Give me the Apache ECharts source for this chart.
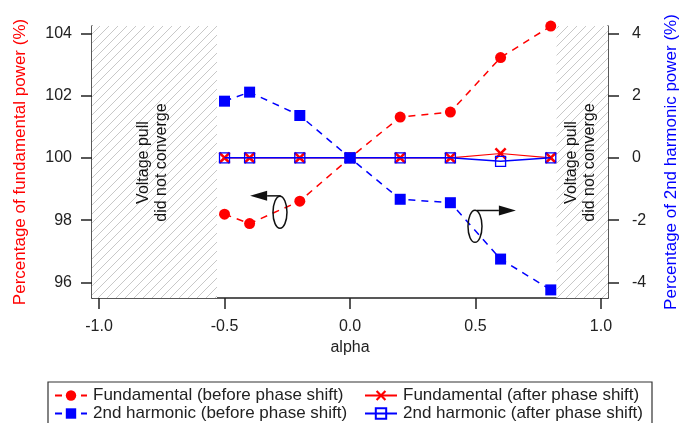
<!DOCTYPE html>
<html>
<head>
<meta charset="utf-8">
<script src="https://cdn.jsdelivr.net/npm/echarts@6/dist/echarts.min.js"></script>
<style>
  html, body { margin: 0; padding: 0; background: #fff; }
  #main { width: 679px; height: 423px; }
</style>
</head>
<body>
<div id="main"></div>
<script>
// x values (alpha)
var alpha = [-0.5, -0.4, -0.2, 0.0, 0.2, 0.4, 0.6, 0.8];
// fundamental power, % (left axis)
var fundBefore = [98.19, 97.89, 98.61, 100.0, 101.31, 101.47, 103.22, 104.23];
var fundAfter = [100.0, 100.0, 100.0, 100.0, 100.0, 100.0, 100.14, 100.0];
// 2nd harmonic power, % (right axis)
var harmBefore = [1.82, 2.11, 1.36, 0.0, -1.33, -1.44, -3.25, -4.24];
var harmAfter = [0.0, 0.0, 0.0, 0.0, 0.0, 0.0, -0.11, 0.0];
// tick values
var xTicks = [-1.0, -0.5, 0.0, 0.5, 1.0];
var leftTicks = [96, 98, 100, 102, 104];
var rightTicks = [-4, -2, 0, 2, 4];
// regions where the solver failed
var noConverge = [[-1.03, -0.53], [0.823, 1.03]];

function pairs(xs, ys) {
  return xs.map(function (x, i) { return [x, ys[i]]; });
}

// hatch pattern for the shaded regions
var hatch = document.createElement('canvas');
hatch.width = 9; hatch.height = 9;
var hc = hatch.getContext('2d');
hc.fillStyle = '#fff';
hc.fillRect(0, 0, 9, 9);
hc.strokeStyle = '#c8c8c8';
hc.lineWidth = 1;
hc.beginPath();
hc.moveTo(-1, 10); hc.lineTo(10, -1);
hc.stroke();

var font = 'Liberation Sans, Arial, sans-serif';
var crossPath = 'path://M0,1.5L1.5,0L5,3.5L8.5,0L10,1.5L6.5,5L10,8.5L8.5,10L5,6.5L1.5,10L0,8.5L3.5,5Z';

var NAMES = ['Fundamental (before phase shift)', '2nd harmonic (before phase shift)',
  'Fundamental (after phase shift)', '2nd harmonic (after phase shift)'];

function legendItem(name, left, top) {
  return {
    orient: 'horizontal', left: left, top: top,
    itemWidth: 32, itemHeight: 13, padding: 0,
    textStyle: { color: '#222', fontSize: 17, padding: [0, 0, 0, 1] },
    data: [name]
  };
}

var chart = echarts.init(document.getElementById('main'));

var option = {
  animation: false,
  textStyle: { fontFamily: font },
  grid: { left: 92, right: 71, top: 26, bottom: 125, containLabel: false, outerBoundsMode: 'none' },
  xAxis: {
    type: 'value',
    min: -1.028, max: 1.028,
    name: 'alpha', nameLocation: 'middle', nameGap: 42,
    nameTextStyle: { color: '#222', fontSize: 16 },
    axisLine: { onZero: false, lineStyle: { color: '#222', width: 1.5 } },
    axisTick: { show: true, length: 11, customValues: xTicks, lineStyle: { color: '#222', width: 1.5 } },
    axisLabel: { customValues: xTicks, color: '#222', fontSize: 16, margin: 21,
      formatter: function (v) { return v.toFixed(1); } },
    splitLine: { show: false }
  },
  yAxis: [{
    type: 'value',
    position: 'left',
    min: 95.5, max: 104.234,
    name: 'Percentage of fundamental power (%)', nameLocation: 'middle', nameGap: 63,
    nameTextStyle: { color: '#ff0000', fontSize: 17 },
    axisLine: { show: true, onZero: false, lineStyle: { color: '#222', width: 1.5 } },
    axisTick: { show: true, length: 11, customValues: leftTicks, lineStyle: { color: '#222', width: 1.5 } },
    axisLabel: { customValues: leftTicks, color: '#222', fontSize: 16, margin: 20 },
    splitLine: { show: false }
  }, {
    type: 'value',
    position: 'right',
    min: -4.5, max: 4.234,
    name: 'Percentage of 2nd harmonic power (%)', nameLocation: 'middle', nameGap: 55,
    nameTextStyle: { color: '#0000ff', fontSize: 17 },
    axisLine: { show: true, onZero: false, lineStyle: { color: '#222', width: 1.5 } },
    axisTick: { show: true, length: 11, customValues: rightTicks, lineStyle: { color: '#222', width: 1.5 } },
    axisLabel: { customValues: rightTicks, color: '#222', fontSize: 16, margin: 24 },
    splitLine: { show: false }
  }],
  legend: [
    legendItem(NAMES[0], 54, 387),
    legendItem(NAMES[1], 54, 405),
    legendItem(NAMES[2], 364, 387),
    legendItem(NAMES[3], 364, 405)
  ],
  series: [{
    name: NAMES[2],
    type: 'line', yAxisIndex: 0,
    data: pairs(alpha, fundAfter),
    symbol: crossPath, symbolSize: 12,
    itemStyle: { color: '#ff0000' },
    lineStyle: { color: '#ff0000', width: 1.2 },
    markArea: {
      silent: true,
      itemStyle: { color: { image: hatch, repeat: 'repeat' } },
      data: noConverge.map(function (r) { return [{ xAxis: r[0] }, { xAxis: r[1] }]; })
    },
    z: 2
  }, {
    name: NAMES[3],
    type: 'line', yAxisIndex: 1,
    data: pairs(alpha, harmAfter),
    symbol: 'rect', symbolSize: 10,
    itemStyle: { color: 'rgba(0,0,0,0)', borderColor: '#0000ff', borderWidth: 1.3 },
    lineStyle: { color: '#0000ff', width: 1.5 },
    z: 3
  }, {
    name: NAMES[0],
    type: 'line', yAxisIndex: 0,
    data: pairs(alpha, fundBefore),
    symbol: 'circle', symbolSize: 11,
    itemStyle: { color: '#ff0000' },
    lineStyle: { color: '#ff0000', width: 1.5, type: [7, 6] },
    z: 4
  }, {
    name: NAMES[1],
    type: 'line', yAxisIndex: 1,
    data: pairs(alpha, harmBefore),
    symbol: 'rect', symbolSize: 11,
    itemStyle: { color: '#0000ff' },
    lineStyle: { color: '#0000ff', width: 1.5, type: [7, 6] },
    z: 5
  }]
};

chart.setOption(option);

// annotations placed in data units (left axis)
function px(x, y) { return chart.convertToPixel({ xAxisIndex: 0, yAxisIndex: 0 }, [x, y]); }

var els = [];
// "Voltage pull / did not converge" labels
noConverge.forEach(function (r) {
  var p = px((Math.max(r[0], -1.028) + Math.min(r[1], 1.028)) / 2, 99.85);
  els.push({
    type: 'text', x: p[0] - 2, y: p[1], rotation: Math.PI / 2, z: 10,
    style: { text: 'Voltage pull\ndid not converge', fill: '#111', font: '16px ' + font,
      align: 'center', verticalAlign: 'middle', lineHeight: 18 }
  });
});

// ellipse + arrow pointing to the matching axis
var arrows = [
  { c: [-0.279, 98.25], from: [-0.276, 98.78], to: [-0.398, 98.78] },
  { c: [0.498, 97.80], from: [0.506, 98.31], to: [0.661, 98.31] }
];
arrows.forEach(function (a) {
  var c = px(a.c[0], a.c[1]), f = px(a.from[0], a.from[1]), t = px(a.to[0], a.to[1]);
  els.push({ type: 'ellipse', shape: { cx: c[0], cy: c[1], rx: 7, ry: 16 }, z: 10,
    style: { fill: null, stroke: '#111', lineWidth: 1.5 } });
  var dir = t[0] > f[0] ? 1 : -1;
  var hx = t[0] - dir * 17;
  els.push({ type: 'polyline', shape: { points: [f, [hx, t[1]]] }, z: 10,
    style: { stroke: '#111', lineWidth: 1.5 } });
  els.push({ type: 'polygon', shape: { points: [[hx, t[1] - 5], t, [hx, t[1] + 5]] }, z: 10,
    style: { fill: '#111' } });
});

// legend frame
els.push({ type: 'rect', shape: { x: 48, y: 382, width: 604, height: 44 }, z: 1,
  style: { fill: null, stroke: '#333', lineWidth: 1.2 } });

chart.setOption({ graphic: els });
</script>
</body>
</html>
